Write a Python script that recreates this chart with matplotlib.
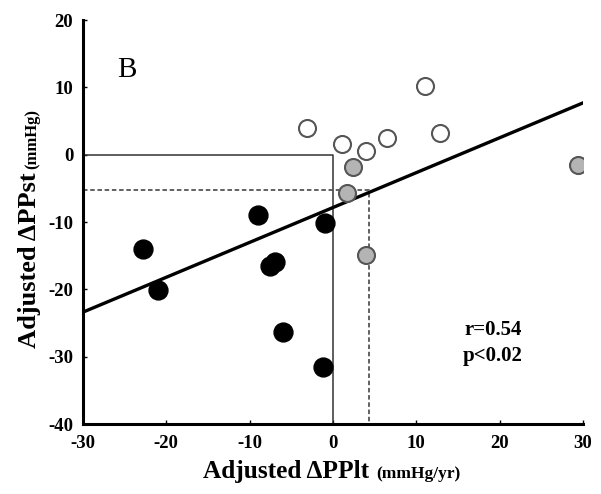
import matplotlib
matplotlib.use('Agg')
import matplotlib.pyplot as plt
import numpy as np

# points (x = adjusted dPPlt, y = adjusted dPPst)
black_x = [-22.8, -21.0, -9.0, -7.6, -6.9, -6.0, -1.0, -1.2]
black_y = [-14.0, -20.1, -9.0, -16.5, -16.0, -26.3, -10.2, -31.5]
gray_x = [2.4, 1.7, 4.0, 29.4]
gray_y = [-1.8, -5.7, -14.9, -1.5]
white_x = [-3.1, 1.1, 4.0, 6.5, 11.0, 12.85]
white_y = [4.0, 1.6, 0.5, 2.5, 10.2, 3.2]

fit_slope = 0.518
fit_intercept = -7.85
cut_x = 4.3
cut_y = -5.3

x_ticks = [-30, -20, -10, 0, 10, 20, 30]
y_ticks = [-40, -30, -20, -10, 0, 10, 20]

serif = 'Liberation Serif'
plt.rcParams['axes.unicode_minus'] = False

fig = plt.figure(figsize=(6.01, 4.94), dpi=100)
ax = fig.add_axes([0.138, 0.1417, 0.832, 0.8178])

ax.set_xlim(-30, 30)
ax.set_ylim(-40, 20)

# regression line
xx = np.array([-30, 30])
ax.plot(xx, fit_slope * xx + fit_intercept, color='black', lw=2.4, zorder=3)

# solid quadrant box
ax.plot([-30, 0, 0], [0, 0, -40], color='#333333', lw=1.1, zorder=2)

# dashed box at the cut point
ax.plot([-30, cut_x, cut_x], [cut_y, cut_y, -40], color='#555555', lw=1.3,
        ls=(0, (2.5, 1.5)), zorder=2)

ax.scatter(black_x, black_y, s=185, c='black', edgecolors='black', zorder=4)
ax.scatter(gray_x, gray_y, s=150, c='#b4b4b4', edgecolors='#555555', linewidths=1.5, zorder=4)
ax.scatter(white_x, white_y, s=150, c='white', edgecolors='#555555', linewidths=1.5, zorder=4)

ax.text(-24.7, 12.6, 'B', fontsize=21, family=serif, ha='center', va='center')
ax.text(19.2, -26.0, 'r=0.54', fontsize=15, family=serif, fontweight='bold',
        ha='center', va='center')
ax.text(19.2, -29.9, 'p<0.02', fontsize=15, family=serif, fontweight='bold',
        ha='center', va='center')

for side in ['top', 'right']:
    ax.spines[side].set_visible(False)
for side in ['left', 'bottom']:
    ax.spines[side].set_linewidth(2.2)

ax.set_xticks(x_ticks)
ax.set_yticks(y_ticks)
ax.tick_params(direction='in', length=3, width=1)
ax.tick_params(axis='x', pad=8)
ax.tick_params(axis='y', pad=7)
for lab in ax.get_xticklabels() + ax.get_yticklabels():
    lab.set_family(serif)
    lab.set_fontweight('bold')
    lab.set_fontsize(13.5)

# axis labels built from a big part and a small unit part
fig.text(369 / 601, 1 - 478 / 494, 'Adjusted \u0394PPlt', family=serif, fontweight='bold',
         fontsize=18.3, ha='right', va='baseline')
fig.text(376 / 601, 1 - 478 / 494, '(mmHg/yr)', family=serif, fontweight='bold',
         fontsize=12.5, ha='left', va='baseline')
fig.text(36 / 601, 1 - 172 / 494, 'Adjusted \u0394PPst', family=serif, fontweight='bold',
         fontsize=19, ha='right', va='baseline', rotation=90, rotation_mode='anchor')
fig.text(36 / 601, 1 - 169 / 494, '(mmHg)', family=serif, fontweight='bold',
         fontsize=12, ha='left', va='baseline', rotation=90, rotation_mode='anchor')

fig.savefig('out.png', dpi=100)
